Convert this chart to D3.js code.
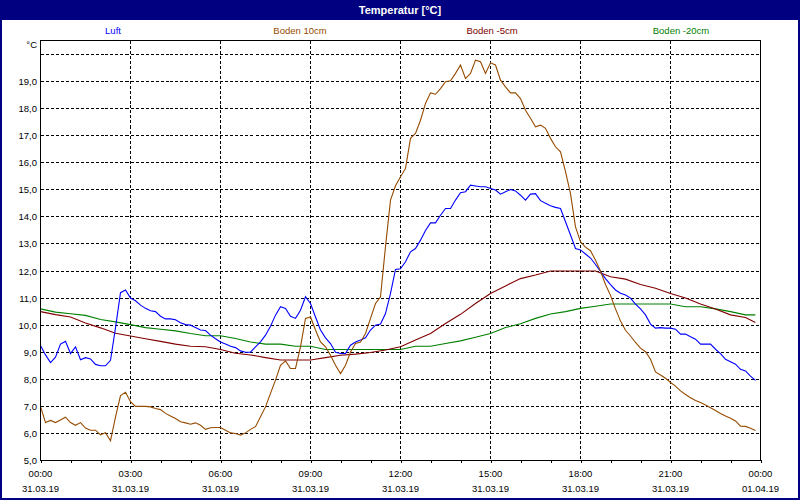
<!DOCTYPE html>
<html><head><meta charset="utf-8">
<script src="https://cdn.jsdelivr.net/npm/d3@7"></script>
<style>
body{margin:0;background:#fff}
svg{display:block}
text{font-family:"Liberation Sans",Arial,sans-serif}
</style>
</head><body>
<svg id="chart" width="800" height="500"></svg>
<script>
// ---------- data ----------
const chartTitle = "Temperatur [°C]";
const unitLabel = "°C";
const seriesNames = ["Luft", "Boden 10cm", "Boden -5cm", "Boden -20cm"];

// 10-minute readings, 00:00 .. 23:50 (six values per hour per row)
const fineStartHour = 0;
const fineStepMinutes = 10;
const luft = [
  9.25, 8.9, 8.62, 8.82, 9.3, 9.4,
  8.95, 9.2, 8.72, 8.8, 8.75, 8.55,
  8.5, 8.5, 8.7, 9.9, 11.2, 11.3,
  11.0, 10.9, 10.74, 10.62, 10.53, 10.5,
  10.33, 10.23, 10.23, 10.2, 10.09, 10.02,
  10.0, 9.91, 9.82, 9.8, 9.63, 9.5,
  9.38, 9.3, 9.22, 9.17, 9.05, 9.0,
  9.0, 9.2, 9.38, 9.63, 9.96, 10.37,
  10.68, 10.62, 10.33, 10.25, 10.55, 11.05,
  10.8, 10.3, 9.82, 9.53, 9.32, 9.0,
  8.95, 8.95, 9.26, 9.38, 9.45, 9.53,
  9.82, 10.0, 10.04, 10.43, 11.17, 12.06,
  12.08, 12.34, 12.71, 12.83, 13.14, 13.5,
  13.78, 13.78, 14.06, 14.31, 14.31, 14.62,
  14.89, 14.93, 15.17, 15.14, 15.11, 15.11,
  15.05, 14.99, 14.84, 14.93, 15.01, 14.96,
  14.8, 14.62, 14.84, 14.86, 14.6, 14.5,
  14.41, 14.35, 14.31, 13.82, 13.33, 12.83,
  12.78, 12.63, 12.48, 12.24, 11.98, 11.72,
  11.5, 11.3, 11.18, 11.11, 11.0, 10.78,
  10.6, 10.38, 10.04, 9.89, 9.91, 9.89,
  9.89, 9.85, 9.67, 9.67, 9.57, 9.48,
  9.3, 9.3, 9.3, 9.11, 8.95, 8.74,
  8.65, 8.56, 8.37, 8.31, 8.12, 7.96
];
const boden10 = [
  7.0, 6.4, 6.48, 6.4, 6.5, 6.6,
  6.4, 6.3, 6.4, 6.2, 6.12, 6.12,
  5.95, 6.03, 5.73, 6.6, 7.4, 7.52,
  7.17, 7.0, 7.0, 7.0, 6.98, 6.92,
  6.88, 6.74, 6.64, 6.55, 6.43, 6.39,
  6.34, 6.39, 6.3, 6.15, 6.21, 6.22,
  6.22, 6.12, 6.02, 6.0, 5.94, 6.02,
  6.15, 6.25, 6.62, 6.98, 7.48, 7.97,
  8.52, 8.68, 8.4, 8.4, 9.2, 10.25,
  10.3, 9.82, 9.38, 9.2, 8.89, 8.52,
  8.21, 8.52, 9.01, 9.32, 9.38, 9.69,
  10.25, 10.8, 11.05, 12.9, 14.62, 15.15,
  15.48, 15.79, 16.9, 17.08, 17.57, 18.19,
  18.58, 18.53, 18.74, 18.99, 19.03, 19.3,
  19.61, 19.11, 19.3, 19.79, 19.73, 19.3,
  19.69, 19.61, 19.05, 18.8, 18.58, 18.58,
  18.37, 17.94, 17.64, 17.33, 17.39, 17.27,
  16.9, 16.59, 16.4, 15.67, 14.86, 13.63,
  13.08, 12.88, 12.75, 12.4, 12.0, 11.5,
  11.1, 10.6, 10.15, 9.81, 9.6, 9.36,
  9.15, 9.02, 8.74, 8.27, 8.16, 8.04,
  7.88, 7.75, 7.57, 7.44, 7.32, 7.22,
  7.14, 7.05, 6.95, 6.85, 6.74, 6.64,
  6.56, 6.46, 6.27, 6.26, 6.19, 6.11
];

// half-hourly readings of the slower soil sensors
const soilHours = [
  0, 0.5, 1, 1.5, 2, 2.5, 3, 3.5, 4, 4.5, 5, 5.5,
  6, 6.5, 7, 7.5, 8, 8.5, 9, 9.5, 10, 10.5, 11, 11.5,
  12, 12.5, 13, 13.5, 14, 14.5, 15, 15.5, 16, 16.5, 17, 17.5,
  18, 18.5, 19, 19.5, 20, 20.5, 21, 21.5, 22, 22.5, 23, 23.5, 23.83
];
const bodenMinus5 = [
  10.5, 10.39, 10.3, 10.08, 9.9, 9.7, 9.6, 9.5, 9.4, 9.3, 9.22, 9.2,
  9.1, 8.96, 8.9, 8.8, 8.71, 8.71, 8.71, 8.8, 8.89, 8.93, 8.99, 9.08,
  9.2, 9.45, 9.69, 10.06, 10.4, 10.8, 11.17, 11.45, 11.72, 11.85, 12.0, 12.0,
  12.0, 12.0, 11.79, 11.7, 11.5, 11.36, 11.17, 11.0, 10.78, 10.6, 10.38, 10.28, 10.1
];
const bodenMinus20 = [
  10.6, 10.48, 10.42, 10.36, 10.21, 10.12, 10.02, 9.91, 9.85, 9.79, 9.69, 9.61,
  9.61, 9.51, 9.38, 9.3, 9.3, 9.22, 9.22, 9.1, 9.1, 9.1, 9.1, 9.1,
  9.1, 9.22, 9.22, 9.32, 9.42, 9.55, 9.69, 9.91, 10.05, 10.25, 10.41, 10.5,
  10.62, 10.7, 10.78, 10.78, 10.78, 10.78, 10.78, 10.68, 10.68, 10.6, 10.5, 10.38, 10.38
];

const yTickValues = [5, 6, 7, 8, 9, 10, 11, 12, 13, 14, 15, 16, 17, 18, 19];
const yGridValues = [6, 7, 8, 9, 10, 11, 12, 13, 14, 15, 16, 17, 18, 19, 20];
const xMajorHours = [0, 3, 6, 9, 12, 15, 18, 21, 24];
const xTimeLabels = ["00:00", "03:00", "06:00", "09:00", "12:00", "15:00", "18:00", "21:00", "00:00"];
const xDateLabels = ["31.03.19", "31.03.19", "31.03.19", "31.03.19", "31.03.19", "31.03.19", "31.03.19", "31.03.19", "01.04.19"];

// ---------- style ----------
const navy = "#000080";
const colors = {"Luft": "#0000ff", "Boden 10cm": "#964b00", "Boden -5cm": "#800000", "Boden -20cm": "#008000"};
const legendX = {"Luft": 113, "Boden 10cm": 300, "Boden -5cm": 492, "Boden -20cm": 681};

const svg = d3.select("#chart");
const L = 40.5, R = 760.5, T = 40.5, B = 460.5;
const x = d3.scaleLinear().domain([0, 24]).range([L, R]);
const pxPerDeg = 27.07;
const y = d3.scaleLinear().domain([5, 20]).range([B, B - 15 * pxPerDeg]);
const crisp = v => Math.round(v - 0.5) + 0.5;
const fmt = v => d3.format(".1f")(v).replace(".", ",");

// window background + title bar
svg.append("rect").attr("x", 0).attr("y", 0).attr("width", 800).attr("height", 500).attr("fill", "#ffffff");
svg.append("rect").attr("x", 0).attr("y", 0).attr("width", 800).attr("height", 20).attr("fill", navy);
svg.append("rect").attr("x", 1).attr("y", 1).attr("width", 798).attr("height", 498)
  .attr("fill", "none").attr("stroke", navy).attr("stroke-width", 2);
svg.append("text").attr("x", 400).attr("y", 14).attr("text-anchor", "middle")
  .attr("fill", "#fff").attr("font-weight", "bold").attr("font-size", 11).text(chartTitle);

// legend
svg.append("g").selectAll("text").data(seriesNames).join("text")
  .attr("x", d => legendX[d]).attr("y", 34).attr("text-anchor", "middle")
  .attr("font-size", 9.5).attr("fill", d => colors[d]).text(d => d);

// grid
const grid = svg.append("g").attr("stroke", "#000").attr("stroke-width", 1)
  .attr("stroke-dasharray", "3,2").attr("shape-rendering", "crispEdges");
grid.selectAll("line.h").data(yGridValues).join("line").attr("class", "h")
  .attr("x1", L).attr("x2", R).attr("y1", d => crisp(y(d))).attr("y2", d => crisp(y(d)));
grid.selectAll("line.v").data(xMajorHours.slice(1, -1)).join("line").attr("class", "v")
  .attr("y1", T).attr("y2", B).attr("x1", d => crisp(x(d))).attr("x2", d => crisp(x(d)));

// series lines
const line = d3.line().x(d => x(d[0])).y(d => y(d[1]));
const fineData = arr => arr.map((v, i) => [fineStartHour + i * fineStepMinutes / 60, v]);
const soilData = arr => arr.map((v, i) => [soilHours[i], v]);
const series = [
  {name: "Boden -20cm", pts: soilData(bodenMinus20)},
  {name: "Boden -5cm", pts: soilData(bodenMinus5)},
  {name: "Luft", pts: fineData(luft)},
  {name: "Boden 10cm", pts: fineData(boden10)}
];
svg.append("g").selectAll("path").data(series).join("path")
  .attr("d", d => line(d.pts)).attr("fill", "none")
  .attr("stroke", d => colors[d.name]).attr("stroke-width", 1.1);

// frame
svg.append("rect").attr("x", L).attr("y", T).attr("width", R - L).attr("height", B - T)
  .attr("fill", "none").attr("stroke", "#000").attr("shape-rendering", "crispEdges");

// x axis ticks (hourly)
const xAxis = d3.axisBottom(x).tickValues(d3.range(0, 25)).tickSize(3).tickFormat("");
const gx = svg.append("g").attr("transform", `translate(0,${B - 0.5})`).call(xAxis);
gx.select(".domain").remove();
gx.selectAll("line").attr("stroke", "#000").attr("shape-rendering", "crispEdges");

const xl = svg.append("g").attr("font-size", 9.5).attr("fill", "#000").attr("text-anchor", "middle");
xl.selectAll("text.t").data(xMajorHours).join("text").attr("class", "t")
  .attr("x", d => x(d)).attr("y", 477).text((d, i) => xTimeLabels[i]);
xl.selectAll("text.d").data(xMajorHours).join("text").attr("class", "d")
  .attr("x", d => x(d)).attr("y", 492).text((d, i) => xDateLabels[i]);

// y labels
const yl = svg.append("g").attr("font-size", 9.5).attr("fill", "#000").attr("text-anchor", "end");
yl.selectAll("text").data(yTickValues).join("text")
  .attr("x", 37).attr("y", d => crisp(y(d)) + 3.5).text(d => fmt(d));
yl.append("text").attr("x", 37).attr("y", 48).text(unitLabel);
</script>
</body></html>
